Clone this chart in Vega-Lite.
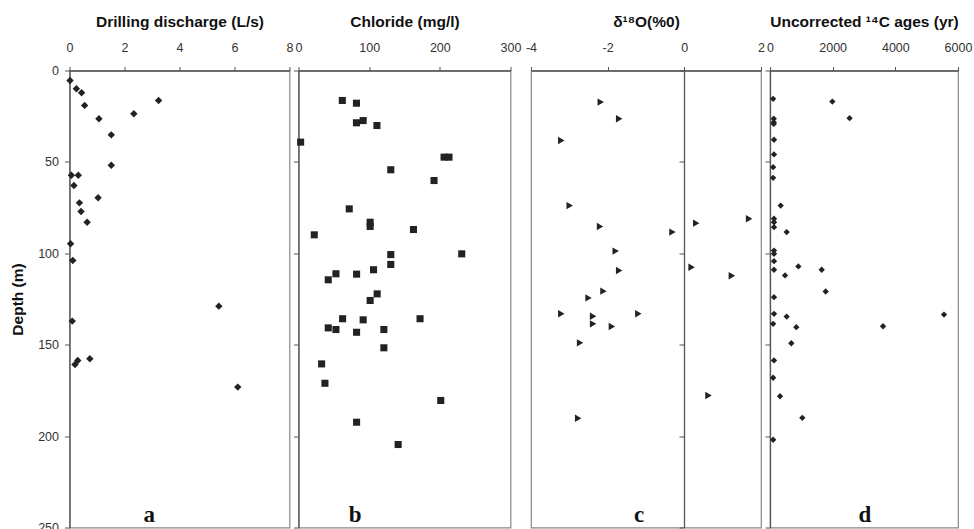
{
  "$schema": "https://vega.github.io/schema/vega-lite/v6.json",
  "padding": {"left": 9.5, "top": 12.5, "right": 5, "bottom": 0},
  "background": "white",
  "config": {
    "font": "Liberation Sans",
    "view": {"stroke": "#888", "strokeWidth": 1.2},
    "axis": {
      "labelFont": "Liberation Sans", "labelFontSize": 12.5, "labelColor": "#333",
      "titleFont": "Liberation Sans", "titleFontSize": 15.5, "titleFontWeight": "bold", "titleColor": "#111",
      "domainColor": "#555", "domainWidth": 1.3, "tickColor": "#555", "grid": false,
      "labelFlush": false, "labelOverlap": false
    },
    "axisX": {"tickSize": 4, "labelPadding": 12.5, "titlePadding": 12, "labelAngle": 0},
    "axisY": {"tickSize": 5, "labelPadding": 6, "titlePadding": 12}
  },
  "datasets": {
    "discharge": [
      {"x": 0.02, "depth": 5.5}, {"x": 0.25, "depth": 10}, {"x": 0.44, "depth": 12.2}, {"x": 3.24, "depth": 16.4},
      {"x": 0.55, "depth": 19.1}, {"x": 2.34, "depth": 23.7}, {"x": 1.07, "depth": 26.4}, {"x": 1.52, "depth": 35.2},
      {"x": 1.52, "depth": 51.8}, {"x": 0.07, "depth": 57.3}, {"x": 0.32, "depth": 57.3}, {"x": 0.16, "depth": 62.9},
      {"x": 1.04, "depth": 69.6}, {"x": 0.36, "depth": 72.4}, {"x": 0.42, "depth": 77.1}, {"x": 0.64, "depth": 83},
      {"x": 0.04, "depth": 94.8}, {"x": 0.12, "depth": 103.9}, {"x": 5.43, "depth": 128.9}, {"x": 0.1, "depth": 137.1},
      {"x": 0.3, "depth": 158.6}, {"x": 0.2, "depth": 160.8}, {"x": 0.74, "depth": 157.7}, {"x": 6.12, "depth": 173.2}
    ],
    "chloride": [
      {"x": 62, "depth": 16.4}, {"x": 82, "depth": 17.9}, {"x": 91.5, "depth": 27.4}, {"x": 82, "depth": 28.6},
      {"x": 111, "depth": 30.1}, {"x": 3, "depth": 39.2}, {"x": 206, "depth": 47.4}, {"x": 213, "depth": 47.4},
      {"x": 130.6, "depth": 54.3}, {"x": 191.8, "depth": 60.2}, {"x": 71.8, "depth": 75.7}, {"x": 101.4, "depth": 83},
      {"x": 101.4, "depth": 85.3}, {"x": 162.7, "depth": 87}, {"x": 22.3, "depth": 89.9}, {"x": 130.6, "depth": 100.7},
      {"x": 231, "depth": 100.3}, {"x": 130.6, "depth": 106.1}, {"x": 106.2, "depth": 109}, {"x": 53, "depth": 111.2},
      {"x": 82.2, "depth": 111.4}, {"x": 42.1, "depth": 114.5}, {"x": 111.3, "depth": 122.2}, {"x": 101.4, "depth": 125.8},
      {"x": 62.4, "depth": 135.8}, {"x": 91.5, "depth": 136.4}, {"x": 172, "depth": 135.8}, {"x": 42.1, "depth": 140.8},
      {"x": 53, "depth": 141.7}, {"x": 82.2, "depth": 143.2}, {"x": 120.8, "depth": 141.7}, {"x": 120.8, "depth": 151.7},
      {"x": 32.7, "depth": 160.5}, {"x": 37.4, "depth": 171.1}, {"x": 201.3, "depth": 180.5}, {"x": 82.2, "depth": 192.4},
      {"x": 141, "depth": 204.6}
    ],
    "oxygen": [
      {"x": -2.18, "depth": 17.3}, {"x": -1.7, "depth": 26.4}, {"x": -3.21, "depth": 38.3}, {"x": -2.99, "depth": 73.9},
      {"x": 1.69, "depth": 81.1}, {"x": 0.31, "depth": 83.5}, {"x": -2.2, "depth": 85.3}, {"x": -0.31, "depth": 88.4},
      {"x": -1.79, "depth": 98.8}, {"x": 0.19, "depth": 107.6}, {"x": -1.7, "depth": 109.4}, {"x": 1.24, "depth": 112.3},
      {"x": -2.11, "depth": 120.7}, {"x": -2.5, "depth": 124.4}, {"x": -3.21, "depth": 133.1}, {"x": -1.2, "depth": 133.1},
      {"x": -2.38, "depth": 134.4}, {"x": -2.38, "depth": 138.6}, {"x": -1.89, "depth": 140}, {"x": -2.72, "depth": 149},
      {"x": 0.63, "depth": 177.8}, {"x": -2.77, "depth": 190.2}
    ],
    "ages": [
      {"x": 100, "depth": 15.5}, {"x": 1990, "depth": 17}, {"x": 2540, "depth": 26.1}, {"x": 120, "depth": 26.4},
      {"x": 120, "depth": 28.3}, {"x": 120, "depth": 29.2}, {"x": 128, "depth": 37.9}, {"x": 128, "depth": 45.9},
      {"x": 100, "depth": 52.9}, {"x": 100, "depth": 58.7}, {"x": 340, "depth": 73.9}, {"x": 128, "depth": 81.1},
      {"x": 128, "depth": 83}, {"x": 128, "depth": 85.7}, {"x": 532, "depth": 88.4}, {"x": 128, "depth": 98.5},
      {"x": 128, "depth": 100.3}, {"x": 128, "depth": 104.3}, {"x": 128, "depth": 109}, {"x": 905, "depth": 107.2},
      {"x": 1650, "depth": 109}, {"x": 480, "depth": 112.1}, {"x": 1777, "depth": 120.9}, {"x": 128, "depth": 124},
      {"x": 128, "depth": 133.1}, {"x": 532, "depth": 134.6}, {"x": 5553, "depth": 133.5}, {"x": 100, "depth": 138.6},
      {"x": 840, "depth": 140.4}, {"x": 3607, "depth": 139.9}, {"x": 680, "depth": 149.2}, {"x": 128, "depth": 158.6},
      {"x": 100, "depth": 168.1}, {"x": 320, "depth": 178.2}, {"x": 1031, "depth": 190}, {"x": 100, "depth": 202}
    ]
  },
  "spacing": 1.5,
  "hconcat": [
    {
      "bounds": "flush",
      "spacing": 9,
      "hconcat": [
        {
          "width": 220, "height": 457,
          "encoding": {
            "x": {"field": "x", "type": "quantitative", "scale": {"domain": [0, 8], "nice": false},
                  "axis": {"orient": "top", "title": "Drilling discharge (L/s)", "values": [0, 2, 4, 6, 8]}},
            "y": {"field": "depth", "type": "quantitative", "scale": {"domain": [0, 250], "reverse": true, "nice": false},
                  "axis": {"title": "Depth (m)", "values": [0, 50, 100, 150, 200, 250]}}
          },
          "layer": [
            {"data": {"name": "discharge"}, "mark": {"type": "point", "shape": "diamond", "filled": true, "size": 55, "color": "#222", "opacity": 1}},
            {"data": {"values": [{"x": 2.9, "depth": 247, "label": "a"}]},
             "mark": {"type": "text", "font": "Liberation Serif", "fontWeight": "bold", "fontSize": 23, "baseline": "alphabetic", "color": "#111"},
             "encoding": {"text": {"field": "label"}}}
          ]
        },
        {
          "width": 212, "height": 457,
          "encoding": {
            "x": {"field": "x", "type": "quantitative", "scale": {"domain": [0, 300], "nice": false},
                  "axis": {"orient": "top", "title": "Chloride (mg/l)", "values": [0, 100, 200, 300]}},
            "y": {"field": "depth", "type": "quantitative", "scale": {"domain": [0, 250], "reverse": true, "nice": false},
                  "axis": {"title": null, "labels": false, "values": [0, 50, 100, 150, 200, 250]}}
          },
          "layer": [
            {"data": {"name": "chloride"}, "mark": {"type": "point", "shape": "square", "filled": true, "size": 50, "color": "#222", "opacity": 1}},
            {"data": {"values": [{"x": 80, "depth": 247, "label": "b"}]},
             "mark": {"type": "text", "font": "Liberation Serif", "fontWeight": "bold", "fontSize": 23, "baseline": "alphabetic", "color": "#111"},
             "encoding": {"text": {"field": "label"}}}
          ]
        }
      ]
    },
    {
      "bounds": "flush",
      "spacing": 9,
      "hconcat": [
        {
          "width": 230, "height": 457,
          "encoding": {
            "x": {"field": "x", "type": "quantitative", "scale": {"domain": [-4, 2], "nice": false, "zero": false},
                  "axis": {"orient": "top", "title": "δ¹⁸O(%0)", "values": [-4, -2, 0, 2], "labelExpr": "'' + datum.value"}},
            "y": {"field": "depth", "type": "quantitative", "scale": {"domain": [0, 250], "reverse": true, "nice": false},
                  "axis": {"title": null, "labels": false, "offset": -153, "values": [0, 50, 100, 150, 200, 250]}}
          },
          "layer": [
            {"data": {"name": "oxygen"}, "mark": {"type": "point", "shape": "triangle-right", "filled": true, "size": 55, "color": "#222", "opacity": 1}},
            {"data": {"values": [{"x": -1.18, "depth": 247, "label": "c"}]},
             "mark": {"type": "text", "font": "Liberation Serif", "fontWeight": "bold", "fontSize": 23, "baseline": "alphabetic", "color": "#111"},
             "encoding": {"text": {"field": "label"}}}
          ]
        },
        {
          "width": 188, "height": 457,
          "encoding": {
            "x": {"field": "x", "type": "quantitative", "scale": {"domain": [0, 6000], "nice": false},
                  "axis": {"orient": "top", "title": "Uncorrected ¹⁴C ages (yr)", "values": [0, 2000, 4000, 6000], "format": "d"}},
            "y": {"field": "depth", "type": "quantitative", "scale": {"domain": [0, 250], "reverse": true, "nice": false},
                  "axis": {"title": null, "labels": false, "values": [0, 50, 100, 150, 200, 250]}}
          },
          "layer": [
            {"data": {"name": "ages"}, "mark": {"type": "point", "shape": "diamond", "filled": true, "size": 40, "color": "#222", "opacity": 1}},
            {"data": {"values": [{"x": 3030, "depth": 247, "label": "d"}]},
             "mark": {"type": "text", "font": "Liberation Serif", "fontWeight": "bold", "fontSize": 23, "baseline": "alphabetic", "color": "#111"},
             "encoding": {"text": {"field": "label"}}}
          ]
        }
      ]
    }
  ]
}
